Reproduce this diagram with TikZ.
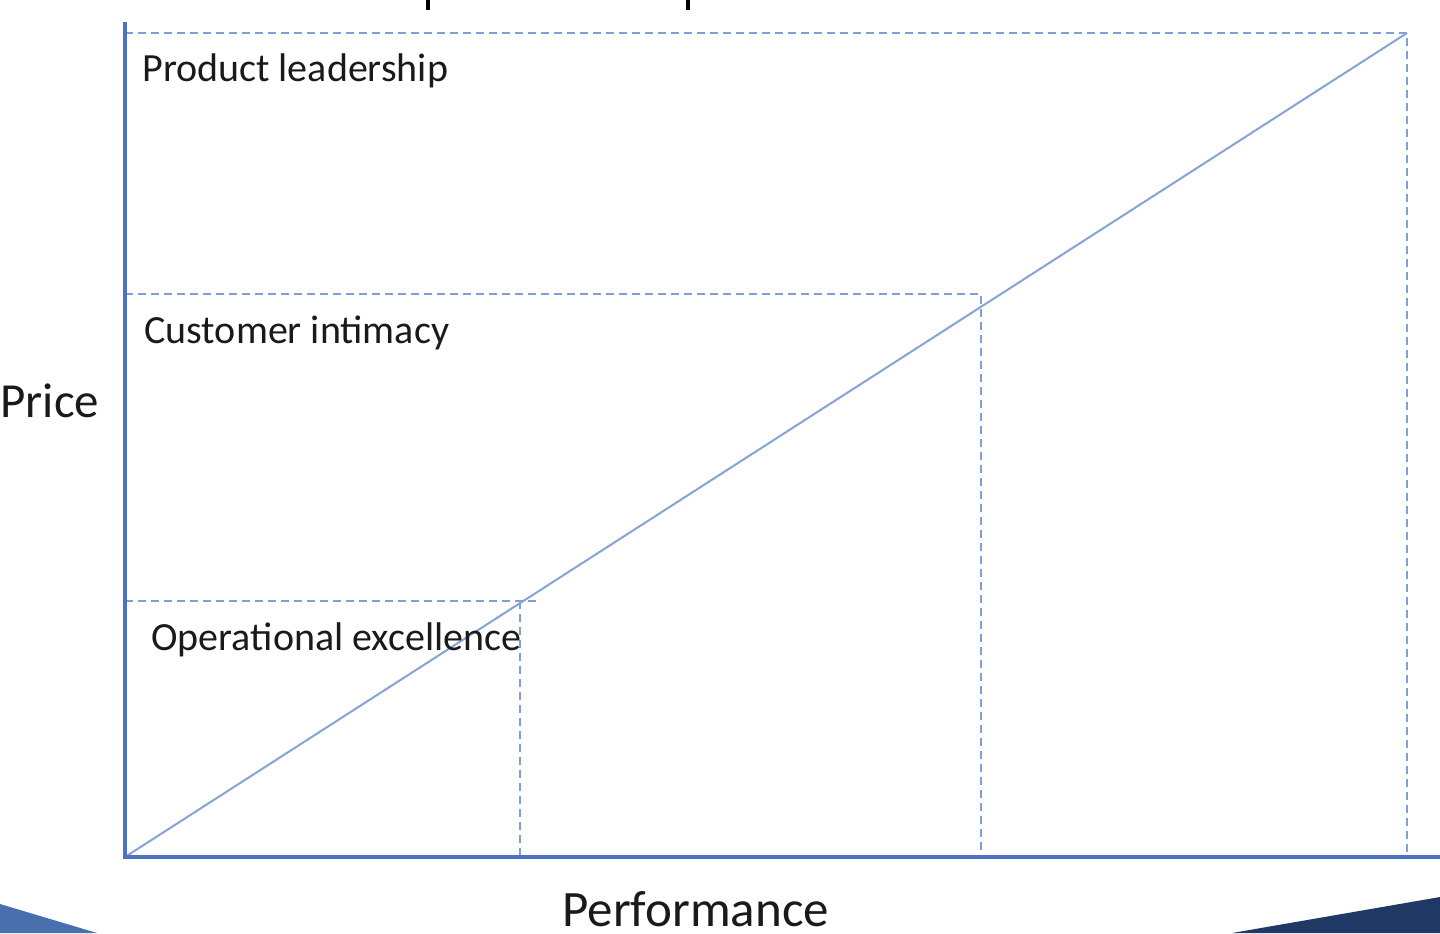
\documentclass[tikz,border=0pt]{standalone}
\usepackage{fontspec}
\setmainfont{Carlito}
\definecolor{axisblue}{HTML}{4A72C0}
\definecolor{dashblue}{HTML}{7F9FD5}
\definecolor{diagblue}{HTML}{86A3D8}
\definecolor{cornerblue}{HTML}{4A6FAE}
\definecolor{cornernavy}{HTML}{203864}
\definecolor{txt}{HTML}{1A1A1A}
\begin{document}
\begin{tikzpicture}[x=0.5pt,y=-0.5pt,
  axisline/.style={draw=axisblue,line width=1.6pt},
  guide/.style={draw=dashblue,line width=1pt,dash pattern=on 4pt off 2.5pt},
  diag/.style={draw=diagblue,line width=1pt},
  zonelabel/.style={anchor=base west,inner sep=0pt,text=txt,font=\fontsize{20}{24}\selectfont},
  axislabel/.style={anchor=base west,inner sep=0pt,text=txt,font=\fontsize{24.5}{29}\selectfont}]
\useasboundingbox (0,0) rectangle (1440,933);
% corner shapes
\fill[cornerblue] (0,904) -- (97,933) -- (0,933) -- cycle;
\fill[cornernavy] (1440,897) -- (1440,933) -- (1232,933) -- cycle;
% title descenders (cut-off title)
\draw[black,line width=2pt] (428,0) -- (428,10);
\draw[black,line width=2pt] (688,0) -- (688,10);
% coordinates
\coordinate (O) at (125,857);
\coordinate (ytop) at (125,22);
\coordinate (xend) at (1440,857);
\coordinate (TR) at (1407,33);
\coordinate (TL) at (125,33);
\coordinate (BR) at (1407,857);
\coordinate (ML) at (125,294);
\coordinate (MR) at (981,294);
\coordinate (MB) at (981,857);
\coordinate (LL) at (125,601);
\coordinate (LR) at (537,601);
\coordinate (LT) at (520,601);
\coordinate (LB) at (520,857);
% dashed guides
\draw[guide] (TL) -- (TR) -- (BR);
\draw[guide] (ML) -- (MR) -- (MB);
\draw[guide] (LL) -- (LR);
\draw[guide] (LT) -- (LB);
% diagonal
\draw[diag] (O) -- (TR);
% axes
\draw[axisline] (ytop) -- (O) -- (xend);
% labels
\node[zonelabel] (pl) at (142,81) {Product leadership};
\node[zonelabel] (ci) at (144,343) {Customer intimacy};
\node[zonelabel] (oe) at (151,650) {Operational excellence};
\node[axislabel] (price) at (0,417) {Price};
\node[axislabel,font=\fontsize{25.5}{30}\selectfont] (perf) at (562,926) {Performance};
\end{tikzpicture}
\end{document}
